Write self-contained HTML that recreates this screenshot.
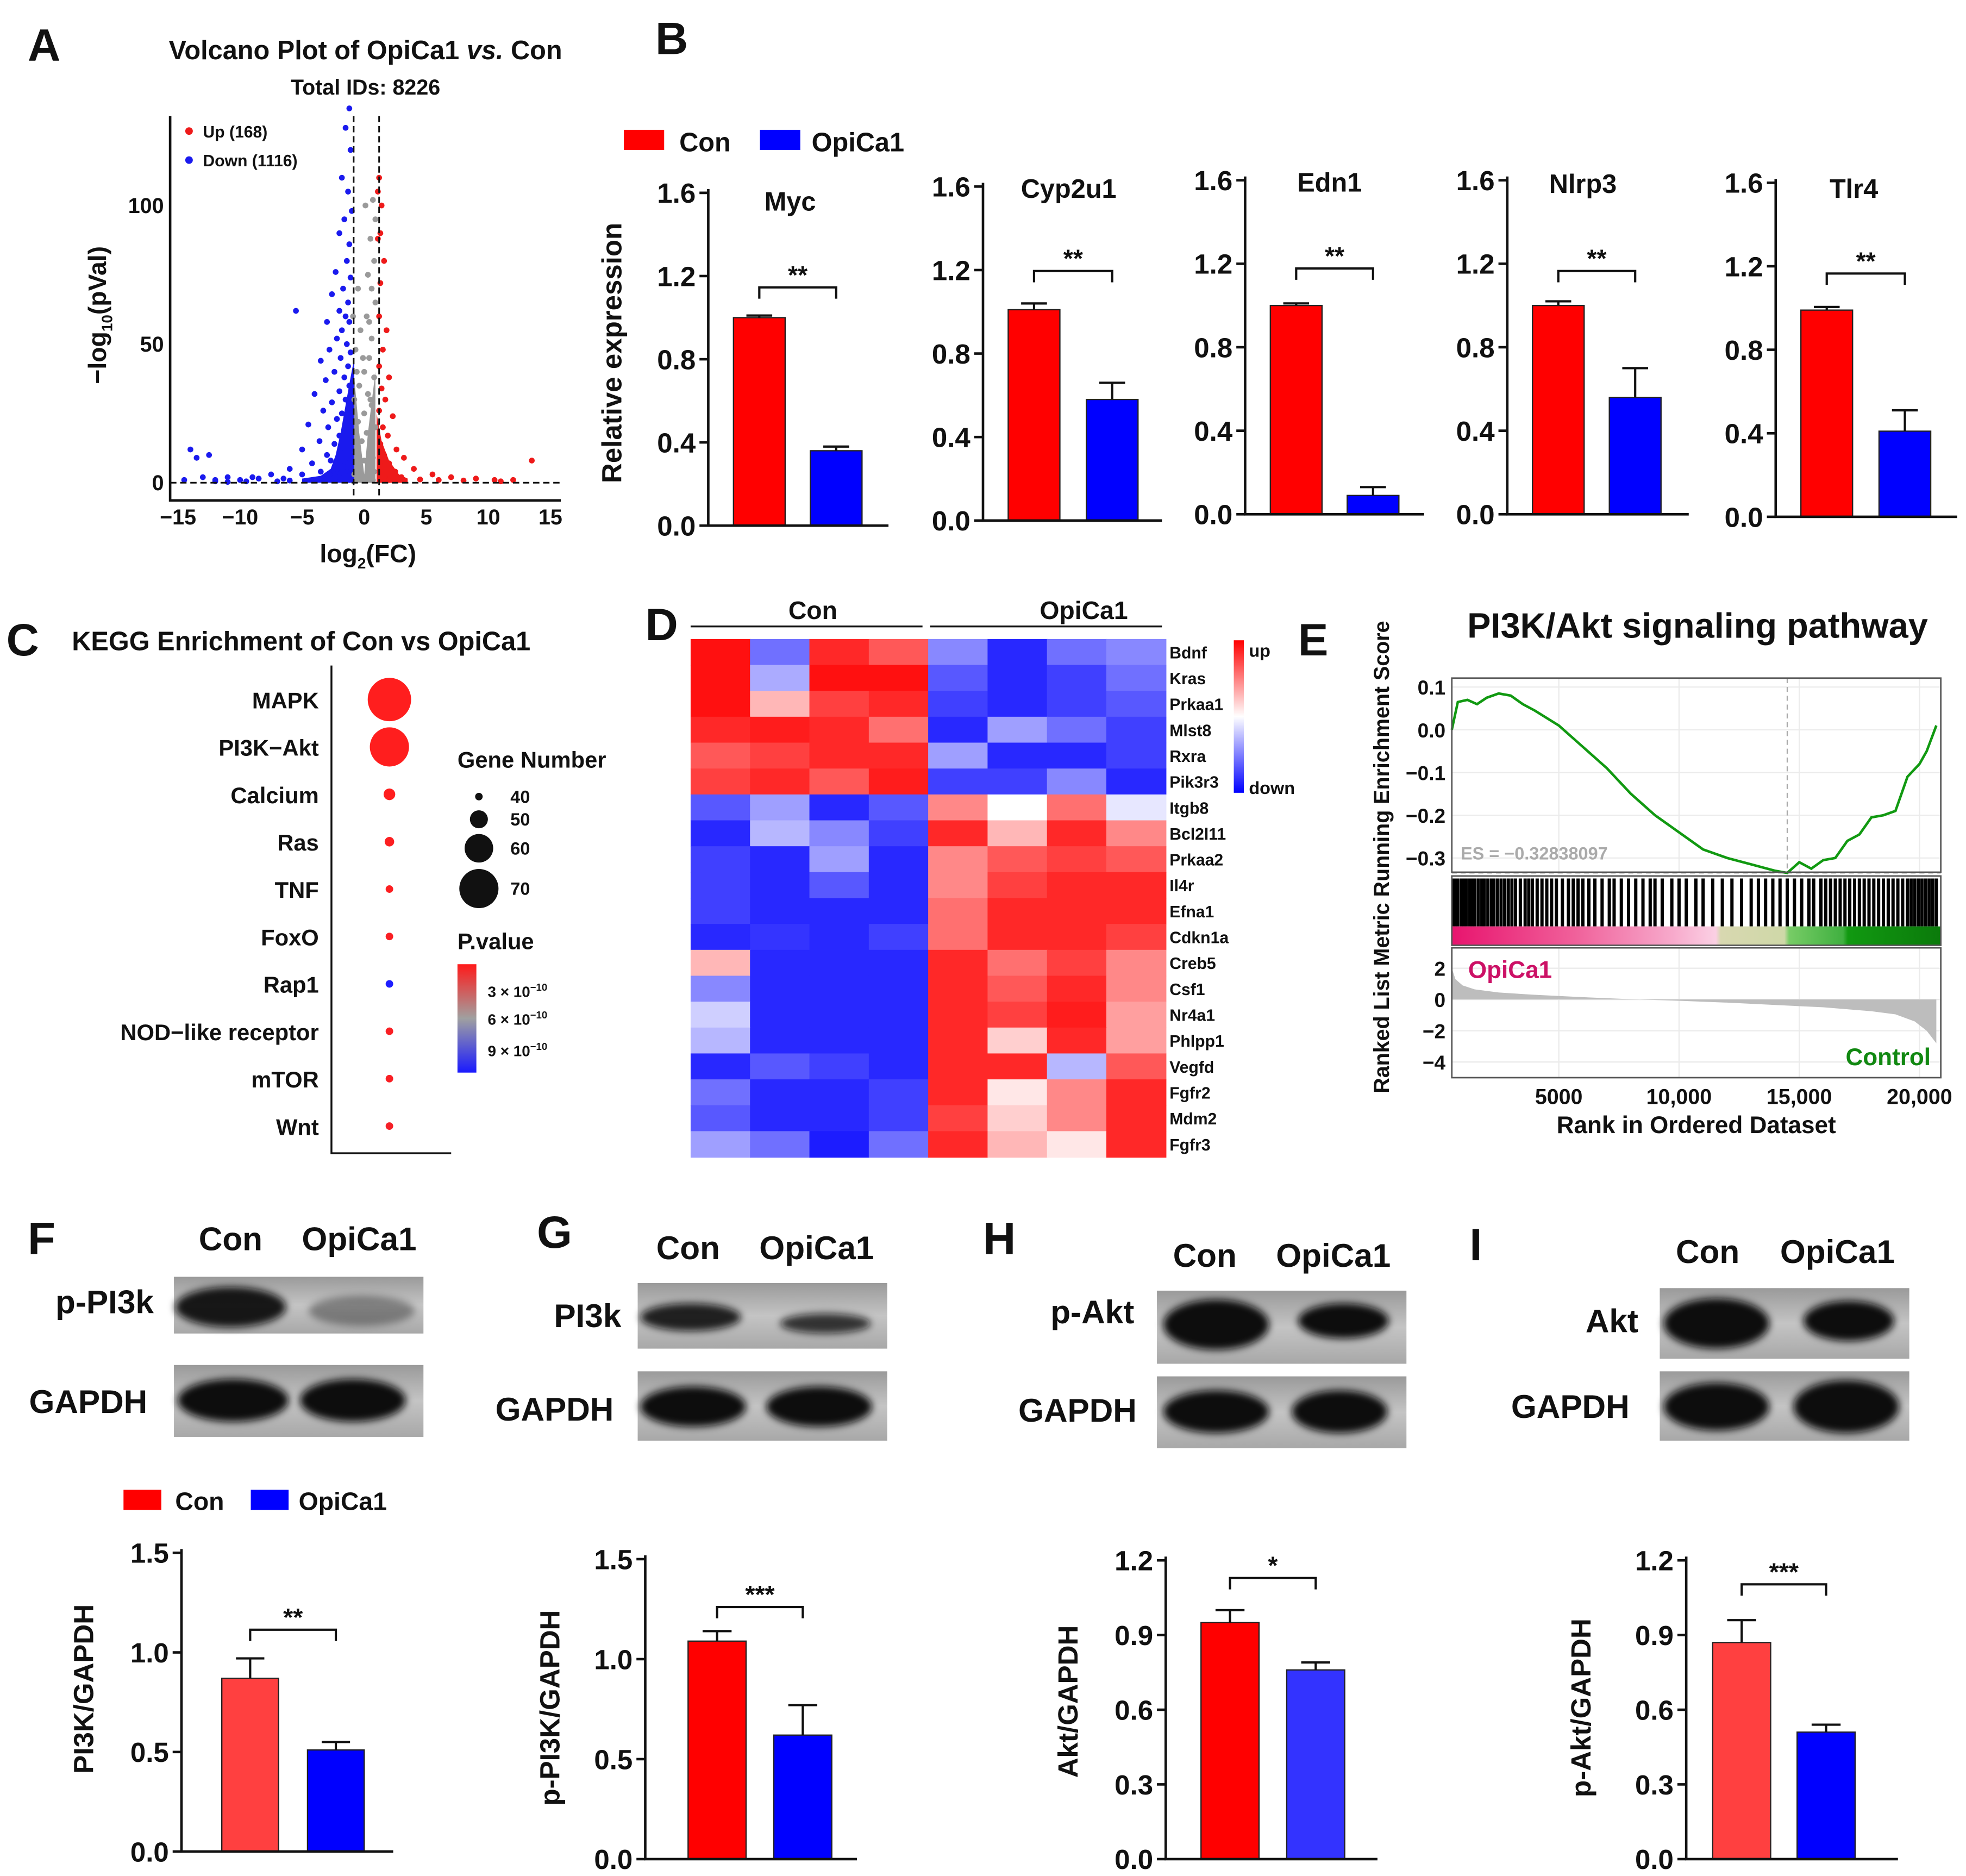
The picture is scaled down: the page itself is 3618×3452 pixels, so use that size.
<!DOCTYPE html>
<html><head><meta charset="utf-8">
<style>
html,body{margin:0;padding:0;background:#fff;}
svg{display:block;font-family:"Liberation Sans",Arial,sans-serif;}
</style></head>
<body>
<svg id="fig" width="3618" height="3452" viewBox="0 0 1560 1488.4" xmlns="http://www.w3.org/2000/svg">
<defs>
<filter id="blur" x="-30%" y="-60%" width="160%" height="220%"><feGaussianBlur stdDeviation="3"/></filter>
<linearGradient id="pgrad" x1="0" y1="0" x2="0" y2="1"><stop offset="0" stop-color="#ff1a1a"/><stop offset="0.5" stop-color="#a0a0a0"/><stop offset="1" stop-color="#1a1aff"/></linearGradient>
<linearGradient id="hgrad" x1="0" y1="0" x2="0" y2="1"><stop offset="0" stop-color="#ff0000"/><stop offset="0.5" stop-color="#ffffff"/><stop offset="1" stop-color="#0000ff"/></linearGradient>
<linearGradient id="band" x1="0" y1="0" x2="1" y2="0">
<stop offset="0" stop-color="#e8146e"/><stop offset="0.25" stop-color="#f0609a"/><stop offset="0.45" stop-color="#f7a9cb"/><stop offset="0.54" stop-color="#fbd0e4"/><stop offset="0.55" stop-color="#d8d8b0"/><stop offset="0.68" stop-color="#cfd8a8"/><stop offset="0.69" stop-color="#77cc66"/><stop offset="0.8" stop-color="#40b040"/><stop offset="0.81" stop-color="#119911"/><stop offset="1" stop-color="#0b7a0b"/></linearGradient>
<linearGradient id="blotbg" x1="0" y1="0" x2="0" y2="1"><stop offset="0" stop-color="#9a9a9a"/><stop offset="0.5" stop-color="#c4c4c4"/><stop offset="1" stop-color="#a8a8a8"/></linearGradient>
</defs>
</svg>
<script>
// ---------- DATA ----------
const volUp = [[1.2,110],[1.4,100],[1.1,88],[1.6,80],[1.3,72],[1.2,60],[1.8,55],[1.5,48],[1.2,42],[2.0,38],[1.4,34],[1.7,30],[1.2,26],[2.3,24],[1.5,20],[1.9,17],[1.3,14],[2.6,12],[1.6,10],[3.2,9],[2.0,7],[1.4,6],[4.0,5],[2.5,4],[1.7,3],[5.5,3],[3.0,2],[7,2],[9,1.5],[10.5,1],[12,1],[8,0.8],[6,1],[4.5,1.2],[13.5,8],[11,0.5],[2,1],[1.3,90],[1.1,105]];
const volDown = [[-1.2,135],[-1.5,128],[-1.1,120],[-1.8,110],[-1.3,105],[-1.0,98],[-1.6,95],[-2.0,90],[-1.2,86],[-1.4,80],[-2.3,76],[-1.1,74],[-1.7,70],[-2.6,68],[-1.3,65],[-2.0,62],[-1.5,60],[-5.5,62],[-1.2,58],[-3.0,58],[-1.8,55],[-2.2,52],[-1.4,50],[-2.8,48],[-1.1,47],[-1.9,45],[-3.5,44],[-1.3,42],[-2.4,40],[-1.6,38],[-3.1,37],[-1.2,35],[-2.0,33],[-4.0,32],[-1.5,30],[-2.6,29],[-1.1,27],[-3.3,26],[-1.8,25],[-2.2,23],[-1.3,22],[-4.5,21],[-2.9,20],[-1.6,19],[-2.0,17],[-1.2,16],[-3.6,15],[-2.4,14],[-1.5,13],[-5.0,12],[-1.9,11],[-3.0,10],[-1.3,9],[-2.7,8],[-4.2,7],[-1.7,6],[-6.0,5],[-2.2,5],[-3.5,4],[-1.4,4],[-7.5,3],[-5.0,3],[-2.8,3],[-9.0,2],[-11,2],[-8.5,1.5],[-10,1],[-6.5,1.5],[-12,1],[-13,2],[-14,12],[-13.5,9],[-12.5,10],[-4,1],[-3,1.5],[-2,2],[-1.5,2.5],[-1.2,1],[-6,0.8],[-9.5,0.5],[-7,0.5],[-11,0.3],[-14.5,1],[-12,0.5]];
const volNs = [[0.1,100],[0.5,88],[0.8,80],[0.3,75],[-0.5,70],[0.9,65],[0.2,60],[-0.3,55],[0.6,52],[-0.7,48],[0.4,45],[0,40],[0.8,38],[-0.4,35],[0.3,32],[-0.8,30],[0.6,28],[0,25],[-0.5,22],[0.9,20],[0.2,18],[-0.2,15],[0.5,13],[-0.7,11],[0.7,9],[0,8],[-0.4,6],[0.3,5],[0.8,4],[-0.8,3],[-0.2,2],[0.4,2],[0.1,1],[-0.6,1],[0.7,1],[0.5,30],[-0.1,45],[0.4,58],[0.6,70],[0.9,95],[0.7,102],[-0.6,40],[-0.9,60]];
const volDownCloud = [[-0.8,0],[-0.8,45],[-1.1,38],[-1.5,28],[-1.9,18],[-2.3,10],[-2.7,5],[-3.5,2.5],[-5,1.5],[-5,0]];
const volNsCloud = [[-0.8,0],[-0.8,38],[-0.4,18],[0,3],[0.3,18],[0.9,40],[0.9,0]];
const volUpCloud = [[1,0],[1,25],[1.4,15],[2,8],[2.8,3],[3.5,1.5],[3.5,0]];
const volXTicks = [-15,-10,-5,0,5,10,15];
const volYTicks = [0,50,100];

const bGenes = ["Myc","Cyp2u1","Edn1","Nlrp3","Tlr4"];
const bConVals = [1.0,1.01,1.0,1.0,0.99];
const bConErr = [0.01,0.03,0.01,0.02,0.015];
const bOpiVals = [0.36,0.58,0.09,0.56,0.41];
const bOpiErr = [0.02,0.08,0.04,0.14,0.1];
const bSig = ["**","**","**","**","**"];
const bTicks = [0,0.4,0.8,1.2,1.6];

const keggTerms = ["MAPK","PI3K\u2212Akt","Calcium","Ras","TNF","FoxO","Rap1","NOD\u2212like receptor","mTOR","Wnt"];
const keggGenes = [74,70,44,42,40,40,39,39,39,36];
const keggP = [2.5,2.5,2.5,2.6,2.6,2.7,9.5,2.7,2.7,2.8];

const hmGenes = ["Bdnf","Kras","Prkaa1","Mlst8","Rxra","Pik3r3","Itgb8","Bcl2l11","Prkaa2","Il4r","Efna1","Cdkn1a","Creb5","Csf1","Nr4a1","Phlpp1","Vegfd","Fgfr2","Mdm2","Fgfr3"];
const hmValues = [
[1,-0.6,0.9,0.7,-0.5,-0.9,-0.6,-0.5],
[1,-0.35,1,1,-0.7,-0.9,-0.8,-0.6],
[1,0.3,0.8,0.9,-0.8,-0.9,-0.8,-0.7],
[0.9,0.95,0.9,0.6,-0.9,-0.4,-0.6,-0.8],
[0.7,0.8,0.9,0.9,-0.4,-0.9,-0.9,-0.8],
[0.8,0.9,0.7,0.95,-0.8,-0.8,-0.5,-0.9],
[-0.7,-0.4,-0.9,-0.7,0.5,0,0.6,-0.1],
[-0.9,-0.3,-0.5,-0.8,0.9,0.3,0.9,0.5],
[-0.8,-0.9,-0.4,-0.9,0.5,0.7,0.8,0.7],
[-0.8,-0.9,-0.7,-0.9,0.5,0.8,0.9,0.9],
[-0.8,-0.9,-0.9,-0.9,0.6,0.9,0.9,0.9],
[-0.9,-0.85,-0.9,-0.8,0.6,0.9,0.9,0.8],
[0.3,-0.9,-0.9,-0.9,0.9,0.6,0.8,0.5],
[-0.5,-0.9,-0.9,-0.9,0.9,0.7,0.9,0.5],
[-0.2,-0.9,-0.9,-0.9,0.9,0.8,0.95,0.4],
[-0.3,-0.9,-0.9,-0.9,0.9,0.2,0.9,0.4],
[-0.9,-0.7,-0.8,-0.9,0.9,0.9,-0.3,0.7],
[-0.6,-0.9,-0.9,-0.8,0.9,0.1,0.5,0.9],
[-0.7,-0.9,-0.9,-0.8,0.8,0.2,0.5,0.9],
[-0.4,-0.6,-0.95,-0.6,0.9,0.3,0.1,0.9]];

const esRanks = [550,800,1200,1600,2000,2500,3000,3500,4000,5000,6000,7000,8000,9000,10000,11000,12000,13000,14000,14500,15000,15500,16000,16500,17000,17500,18000,18500,19000,19500,20000,20300,20700];
const esVals = [0.0,0.065,0.07,0.06,0.075,0.085,0.08,0.06,0.045,0.01,-0.04,-0.09,-0.15,-0.2,-0.24,-0.28,-0.3,-0.315,-0.33,-0.335,-0.31,-0.325,-0.305,-0.3,-0.26,-0.245,-0.205,-0.2,-0.19,-0.11,-0.08,-0.05,0.01];
const esHits = [600,700,800,950,1050,1150,1300,1400,1500,1650,1800,1900,2050,2200,2300,2450,2600,2750,2900,3050,3200,3400,3600,3750,3900,4100,4300,4500,4700,4900,5150,5400,5600,5800,6000,6250,6500,6800,7100,7300,7600,7900,8200,8500,8800,9000,9300,9700,10000,10300,10700,11000,11400,11800,12200,12600,13000,13300,13600,13900,14200,14500,14800,15100,15400,15600,15900,16100,16300,16500,16700,16900,17100,17300,17500,17700,17900,18100,18300,18500,18700,18900,19100,19300,19500,19650,19800,19950,20100,20250,20400,20550,20700];
const metRanks = [550,700,1000,1500,2500,4000,6000,8000,10000,12000,14000,16000,18000,19000,19800,20300,20700];
const metVals = [2.0,1.3,0.9,0.65,0.45,0.3,0.15,0.02,-0.08,-0.2,-0.35,-0.5,-0.75,-0.95,-1.4,-2.0,-2.8];
const esXTicks = [5000,10000,15000,20000];
const esXLabels = ["5000","10,000","15,000","20,000"];
const esYTicks = [0.1,0,-0.1,-0.2,-0.3];
const esYLabels = ["0.1","0.0","\u22120.1","\u22120.2","\u22120.3"];
const metYTicks = [2,0,-2,-4];

const wbTitles = ["PI3K/GAPDH","p-PI3K/GAPDH","Akt/GAPDH","p-Akt/GAPDH"];
const wbConVals = [0.87,1.09,0.95,0.87];
const wbConErr = [0.1,0.05,0.05,0.09];
const wbOpiVals = [0.51,0.62,0.76,0.51];
const wbOpiErr = [0.04,0.15,0.03,0.03];
const wbSig = ["**","***","*","***"];
const wbTicksA = [0,0.5,1.0,1.5];
const wbTicksB = [0,0.3,0.6,0.9,1.2];

// ---------- HELPERS ----------
const NS='http://www.w3.org/2000/svg';
const svg=document.getElementById('fig');
function mk(tag,attrs,parent){const e=document.createElementNS(NS,tag);for(const k in attrs)e.setAttribute(k,attrs[k]);(parent||svg).appendChild(e);return e;}
function tx(x,y,s,attrs){const e=mk('text',Object.assign({x:x,y:y,'font-weight':'bold',fill:'#111'},attrs||{}));e.textContent=s;return e;}
function fmt(v,d){const s=v.toFixed(d);return s;}

// ---------- PANEL LETTERS ----------
const letters=[["A",22,48],["B",520,43],["C",5,520],["D",512,508],["E",1030,520],["F",22,995],["G",426,990],["H",780,995],["I",1166,1000]];
letters.forEach(l=>{const e=tx(l[1],l[2],l[0],{'font-size':36});

});

// ---------- PANEL A: VOLCANO ----------
(function(){
const x0=289,xs=9.85,y0=383,ys=2.2;
const X=v=>x0+v*xs, Y=v=>y0-v*ys;
const g=mk('g',{});


let t=tx(290,47,"Volcano Plot of OpiCa1 ",{'font-size':21,'text-anchor':'middle'},g);
const it=mk('tspan',{'font-style':'italic'},t);it.textContent="vs.";
const t2=mk('tspan',{},t);t2.textContent=" Con";


t=tx(290,75,"Total IDs: 8226",{'font-size':17,'text-anchor':'middle'},g);


function cloud(pts,col,name){const p=mk('polygon',{points:pts.map(q=>X(q[0])+','+Y(q[1])).join(' '),fill:col},g);

}
cloud(volDownCloud,'#1a1aee','down-dense-cloud');
cloud(volNsCloud,'#9a9a9a','ns-dense-cloud');
cloud(volUpCloud,'#ee1a1a','up-dense-cloud');
function pts(arr,col,name){arr.forEach(q=>{const c=mk('circle',{cx:X(q[0]),cy:Y(q[1]),r:2.3,fill:col},g);

});}
pts(volNs,'#9a9a9a','ns-point');pts(volDown,'#1a1aee','down-point');pts(volUp,'#ee1a1a','up-point');
[X(-0.85),X(1.2)].forEach(x=>{const l=mk('line',{x1:x,x2:x,y1:92,y2:397,stroke:'#111','stroke-width':1.3,'stroke-dasharray':'5,3'},g);

});
let l=mk('line',{x1:135,x2:445,y1:Y(0),y2:Y(0),stroke:'#111','stroke-width':1.3,'stroke-dasharray':'5,3'},g);


l=mk('path',{d:'M135,92 V397 H445',fill:'none',stroke:'#111','stroke-width':2},g);


volXTicks.forEach(v=>{const e=tx(X(v),416,(v<0?'\u2212':'')+Math.abs(v),{'font-size':17,'text-anchor':'middle'},g);

});
volYTicks.forEach(v=>{const e=tx(130,Y(v)+6,String(v),{'font-size':17,'text-anchor':'end'},g);

});
t=tx(292,446,"log",{'font-size':20,'text-anchor':'middle'},g);
let s=mk('tspan',{'font-size':12,dy:5},t);s.textContent="2";
s=mk('tspan',{dy:-5},t);s.textContent="(FC)";


t=tx(0,0,"\u2212log",{'font-size':20,'text-anchor':'middle',transform:'translate(84,250) rotate(-90)'},g);
s=mk('tspan',{'font-size':12,dy:5},t);s.textContent="10";
s=mk('tspan',{dy:-5},t);s.textContent="(pVal)";


let c=mk('circle',{cx:150,cy:104,r:3,fill:'#ee1a1a'},g);


t=tx(161,109,"Up (168)",{'font-size':13},g);


c=mk('circle',{cx:150,cy:127,r:3,fill:'#1a1aee'},g);


t=tx(161,132,"Down (1116)",{'font-size':13},g);


})();

// ---------- BAR CHART HELPER ----------
function barChart(o){
const g=mk('g',{});


const sc=(o.zeroY-o.topY)/o.tickMax, Y=v=>o.zeroY-v*sc;
const cw=o.barW;
[[o.redX,o.con,o.conE,o.redCol,'con-bar'],[o.blueX,o.opi,o.opiE,o.blueCol,'opicа1-bar'.replace('а','a')]].forEach(b=>{
const top=Y(b[1]);
const r=mk('rect',{x:b[0],y:top,width:cw,height:o.zeroY-top,fill:b[3],stroke:'#222','stroke-width':1},g);


const cx=b[0]+cw/2, et=Y(b[1]+b[2]);
const e=mk('path',{d:`M${cx},${top} V${et} M${cx-cw*0.25},${et} H${cx+cw*0.25}`,stroke:'#111','stroke-width':1.8,fill:'none'},g);

});
const a=mk('path',{d:`M${o.axX},${o.topY-3} V${o.zeroY} H${o.xEnd}`,fill:'none',stroke:'#111','stroke-width':2},g);


o.ticks.forEach(v=>{const tk=mk('line',{x1:o.axX-7,x2:o.axX,y1:Y(v),y2:Y(v),stroke:'#111','stroke-width':2},g);


const lb=tx(o.axX-10,Y(v)+o.fs*0.36,fmt(v,1),{'font-size':o.fs,'text-anchor':'end'},g);

});
const c1=o.redX+cw/2,c2=o.blueX+cw/2;
const br=mk('path',{d:`M${c1},${o.brY+9} V${o.brY} H${c2} V${o.brY+9}`,fill:'none',stroke:'#111','stroke-width':1.8},g);


const st=tx((c1+c2)/2,o.brY-3,o.sig,{'font-size':20,'text-anchor':'middle'},g);


if(o.title){const tt=tx(o.titleX,o.titleY,o.title,{'font-size':21,'text-anchor':'middle'},g);

}
if(o.ytitle){const yt=tx(0,0,o.ytitle,{'font-size':22,'text-anchor':'middle',transform:`translate(${o.ytX},${o.ytY}) rotate(-90)`},g);

}
}

// ---------- PANEL B ----------
const bGeo=[[562,417,153,705,582,643,627,167,228],[780,413,148,922,800,862,848,157,215],[988,408,143,1130,1008,1069,1055,152,213],[1196,408,143,1340,1216,1277,1256,153,215],[1409,410,145,1553,1429,1491,1471,157,217]];
bGenes.forEach((gname,i)=>{const q=bGeo[i];
barChart({name:'bar-chart-'+gname.toLowerCase(),axX:q[0],zeroY:q[1],topY:q[2],tickMax:1.6,ticks:bTicks,xEnd:q[3],redX:q[4],blueX:q[5],barW:41,
con:bConVals[i],conE:bConErr[i],opi:bOpiVals[i],opiE:bOpiErr[i],sig:bSig[i],brY:q[8],title:gname,titleX:q[6],titleY:q[7],fs:22,redCol:'#ff0000',blueCol:'#0000ff',
ytitle:i===0?"Relative expression":null,ytX:493,ytY:280});});
(function(){
let r=mk('rect',{x:495,y:103,width:32,height:16,fill:'#ff0000'});


let t=tx(539,120,"Con",{'font-size':21});


r=mk('rect',{x:603,y:103,width:32,height:16,fill:'#0000ff'});


t=tx(644,120,"OpiCa1",{'font-size':21});


})();

// ---------- PANEL C: KEGG ----------
(function(){
const g=mk('g',{});


let t=tx(57,516,"KEGG Enrichment  of Con vs OpiCa1",{'font-size':21},g);


const rowY=i=>555+i*37.6;
const R=n=>Math.max(3,(n-33)*0.42);
const pcol=p=>{const f=(p-2.5)/7; const r=Math.round(255*(1-f)+30*f), b=Math.round(30*(1-f)+255*f); return `rgb(${r},${Math.round(30+20*(1-Math.abs(2*f-1)))},${b})`;};
keggTerms.forEach((term,i)=>{
const l=tx(253,rowY(i)+7,term,{'font-size':18,'text-anchor':'end'},g);


const c=mk('circle',{cx:309,cy:rowY(i),r:R(keggGenes[i]),fill:pcol(keggP[i])},g);

});
const a=mk('path',{d:'M263,528 V915 H358',fill:'none',stroke:'#111','stroke-width':1.5},g);


t=tx(363,609,"Gene Number",{'font-size':18},g);


[[40,632],[50,650],[60,673],[70,705]].forEach(s=>{const c=mk('circle',{cx:380,cy:s[1],r:R(s[0]),fill:'#111'},g);


const lb=tx(405,s[1]+5,String(s[0]),{'font-size':14},g);

});
t=tx(363,753,"P.value",{'font-size':18},g);


const cb=mk('rect',{x:363,y:765,width:15,height:86,fill:'url(#pgrad)'},g);


[["3",787],["6",809],["9",834]].forEach(s=>{const lb=tx(387,s[1]+4,s[0]+" \u00d7 10",{'font-size':12},g);
const sp=mk('tspan',{'font-size':8,dy:-5},lb);sp.textContent="\u221210";

});
})();

// ---------- PANEL D: HEATMAP ----------
(function(){
const g=mk('g',{});


const x0=548,x1=925,y0=507,y1=918,nc=8,nr=hmGenes.length;
const cw=(x1-x0)/nc,ch=(y1-y0)/nr;
const col=v=>{const a=Math.min(1,Math.abs(v));const w=Math.round(255*(1-a)+16*a);return v>=0?`rgb(255,${w},${w})`:`rgb(${w},${w},255)`;};
hmValues.forEach((row,i)=>{row.forEach((v,j)=>{const r=mk('rect',{x:x0+j*cw,y:y0+i*ch,width:cw+0.5,height:ch+0.5,fill:col(v)},g);

});
const l=tx(928,y0+i*ch+ch/2+5,hmGenes[i],{'font-size':13},g);

});
[[548,732,"Con",645],[738,922,"OpiCa1",860]].forEach(s=>{const ln=mk('line',{x1:s[0],x2:s[1],y1:497,y2:497,stroke:'#111','stroke-width':1.5},g);


const t=tx(s[3],491,s[2],{'font-size':20,'text-anchor':'middle'},g);

});
const cb=mk('rect',{x:979,y:508,width:8,height:121,fill:'url(#hgrad)'},g);


let t=tx(991,521,"up",{'font-size':14},g);


t=tx(991,630,"down",{'font-size':14},g);


})();

// ---------- PANEL E: GSEA ----------
(function(){
const g=mk('g',{});


const X=r=>1141.5+r*0.01908;
const bx0=1152,bx1=1540;
const Yes=v=>579-v*339;
const Ym=v=>793-v*12.4;
let t=tx(1347,506,"PI3K/Akt signaling pathway",{'font-size':28,'text-anchor':'middle'},g);


// gridlines
esXTicks.forEach(v=>{[[538,692],[752,855]].forEach(b=>{const l=mk('line',{x1:X(v),x2:X(v),y1:b[0],y2:b[1],stroke:'#ebebeb','stroke-width':1},g);

});});
esYTicks.forEach(v=>{const l=mk('line',{x1:bx0,x2:bx1,y1:Yes(v),y2:Yes(v),stroke:'#ebebeb','stroke-width':1},g);

});
metYTicks.forEach(v=>{const l=mk('line',{x1:bx0,x2:bx1,y1:Ym(v),y2:Ym(v),stroke:'#ebebeb','stroke-width':1},g);

});
// es dashed
let minI=0;esVals.forEach((v,i)=>{if(v<esVals[minI])minI=i;});
let l=mk('line',{x1:X(esRanks[minI]),x2:X(esRanks[minI]),y1:538,y2:692,stroke:'#aaa','stroke-width':1,'stroke-dasharray':'4,3'},g);


l=mk('line',{x1:bx0,x2:bx1,y1:Yes(esVals[minI]),y2:Yes(esVals[minI]),stroke:'#aaa','stroke-width':1,'stroke-dasharray':'4,3'},g);


const p=mk('polyline',{points:esRanks.map((r,i)=>X(r)+','+Yes(esVals[i])).join(' '),fill:'none',stroke:'#119911','stroke-width':2},g);


t=tx(1159,682,"ES = \u22120.32838097",{'font-size':14,fill:'#aaa'},g);


// barcode
esHits.forEach(r=>{const h=mk('line',{x1:X(r),x2:X(r),y1:697,y2:735,stroke:'#000','stroke-width':2.6},g);

});
const bd=mk('rect',{x:bx0,y:735,width:bx1-bx0,height:15,fill:'url(#band)'},g);


// metric
const area=mk('polygon',{points:[X(metRanks[0])+','+Ym(0)].concat(metRanks.map((r,i)=>X(r)+','+Ym(metVals[i]))).concat([X(metRanks[metRanks.length-1])+','+Ym(0)]).join(' '),fill:'#bdbdbd'},g);


[[538,692],[695,750],[752,855]].forEach(b=>{const r=mk('rect',{x:bx0,y:b[0],width:bx1-bx0,height:b[1]-b[0],fill:'none',stroke:'#555','stroke-width':1.2},g);

});
esYTicks.forEach((v,i)=>{const lb=tx(1147,Yes(v)+6,esYLabels[i],{'font-size':16,'text-anchor':'end'},g);

});
metYTicks.forEach(v=>{const lb=tx(1147,Ym(v)+6,(v<0?'\u2212':'')+Math.abs(v),{'font-size':16,'text-anchor':'end'},g);

});
esXTicks.forEach((v,i)=>{const lb=tx(X(v),876,esXLabels[i],{'font-size':17,'text-anchor':'middle'},g);

});
t=tx(1346,899,"Rank in Ordered Dataset",{'font-size':19,'text-anchor':'middle'},g);


t=tx(0,0,"Ranked List Metric Running Enrichment Score",{'font-size':17,'text-anchor':'middle',transform:'translate(1102,680) rotate(-90)'},g);


t=tx(1165,776,"OpiCa1",{'font-size':19,fill:'#cc1166'},g);


t=tx(1532,845,"Control",{'font-size':19,fill:'#118811','text-anchor':'end'},g);


})();

// ---------- WESTERN BLOTS ----------
const blots=[
{name:'blot-f',con:[183,992],opi:[285,992],rows:[{lab:'p-PI3k',lx:122,ly:1042,anchor:'end',box:[138,1013,198,45],bands:[[183,1037,44,16,0.95],[287,1040,42,12,0.35]]},{lab:'GAPDH',lx:70,ly:1121,anchor:'middle',box:[138,1083,198,57],bands:[[185,1111,44,17,1],[280,1111,42,17,1]]}]},
{name:'blot-g',con:[546,999],opi:[648,999],rows:[{lab:'PI3k',lx:493,ly:1053,anchor:'end',box:[506,1018,198,52],bands:[[548,1045,40,11,0.9],[655,1050,36,8,0.8]]},{lab:'GAPDH',lx:440,ly:1127,anchor:'middle',box:[506,1088,198,55],bands:[[550,1116,42,16,1],[650,1116,42,16,1]]}]},
{name:'blot-h',con:[956,1005],opi:[1058,1005],rows:[{lab:'p-Akt',lx:900,ly:1050,anchor:'end',box:[918,1024,198,58],bands:[[965,1051,42,20,1],[1066,1048,36,14,1]]},{lab:'GAPDH',lx:855,ly:1128,anchor:'middle',box:[918,1092,198,57],bands:[[965,1120,42,17,1],[1063,1120,38,17,1]]}]},
{name:'blot-i',con:[1355,1002],opi:[1458,1002],rows:[{lab:'Akt',lx:1300,ly:1057,anchor:'end',box:[1317,1022,198,56],bands:[[1362,1050,42,20,1],[1467,1048,36,16,1]]},{lab:'GAPDH',lx:1246,ly:1125,anchor:'middle',box:[1317,1088,198,55],bands:[[1362,1116,42,19,1],[1465,1116,42,21,1]]}]}];
blots.forEach(b=>{
const g=mk('g',{});


let t=tx(b.con[0],b.con[1],"Con",{'font-size':26,'text-anchor':'middle'},g);


t=tx(b.opi[0],b.opi[1],"OpiCa1",{'font-size':26,'text-anchor':'middle'},g);


b.rows.forEach(r=>{
const bx=mk('rect',{x:r.box[0],y:r.box[1],width:r.box[2],height:r.box[3],fill:'url(#blotbg)'},g);


r.bands.forEach(d=>{const e=mk('ellipse',{cx:d[0],cy:d[1],rx:d[2],ry:d[3],fill:'#0a0a0a','fill-opacity':d[4],filter:'url(#blur)'},g);

});
const l=tx(r.lx,r.ly,r.lab,{'font-size':26,'text-anchor':r.anchor},g);

});
});

// ---------- BOTTOM BAR CHARTS ----------
(function(){
let r=mk('rect',{x:98,y:1182,width:30,height:16,fill:'#ff0000'});


let t=tx(139,1198,"Con",{'font-size':20});


r=mk('rect',{x:199,y:1182,width:30,height:16,fill:'#0000ff'});


t=tx(237,1198,"OpiCa1",{'font-size':20});


})();
const wbGeo=[[144,1469,1232,1.5,wbTicksA,312,176,244,45,1293,74,1340,'#ff4040','#0000ff'],
[512,1475,1237,1.5,wbTicksA,680,546,614,46,1275,444,1355,'#ff0000','#0000ff'],
[925,1475,1238,1.2,wbTicksB,1093,953,1021,46,1252,855,1350,'#ff0000','#3333ff'],
[1338,1475,1238,1.2,wbTicksB,1506,1359,1426,46,1257,1262,1355,'#ff4040','#0000ff']];
wbTitles.forEach((ttl,i)=>{const q=wbGeo[i];
barChart({name:'quant-chart-'+ttl.toLowerCase().replace(/[^a-z0-9]+/g,'-'),axX:q[0],zeroY:q[1],topY:q[2],tickMax:q[3],ticks:q[4],xEnd:q[5],redX:q[6],blueX:q[7],barW:q[8],
con:wbConVals[i],conE:wbConErr[i],opi:wbOpiVals[i],opiE:wbOpiErr[i],sig:wbSig[i],brY:q[9],title:null,fs:22,redCol:q[12],blueCol:q[13],ytitle:ttl,ytX:q[10],ytY:q[11]});});
</script>
</body></html>
